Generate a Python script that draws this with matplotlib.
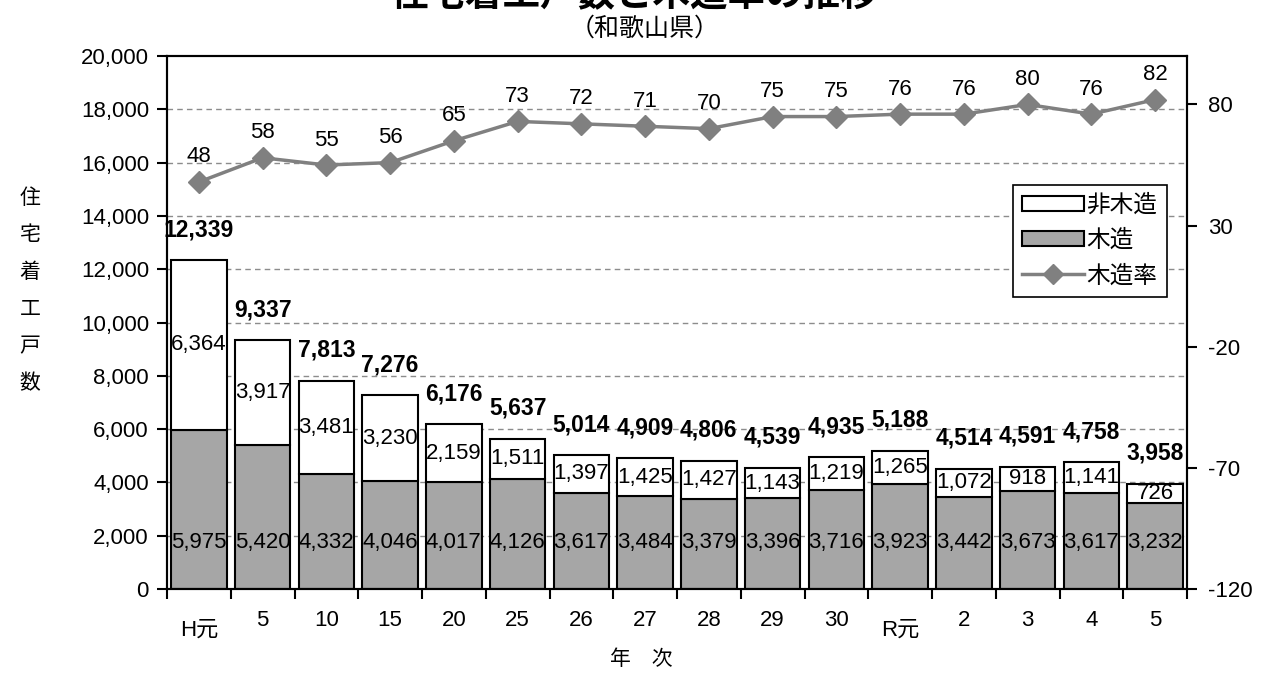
import numpy as np
import matplotlib
matplotlib.use("Agg")
import matplotlib.pyplot as plt
from matplotlib.patches import Patch
from matplotlib.lines import Line2D
from matplotlib.ticker import FuncFormatter

# data
years = ["H元", "5", "10", "15", "20", "25", "26", "27", "28", "29", "30", "R元", "2", "3", "4", "5"]
wooden = [5975, 5420, 4332, 4046, 4017, 4126, 3617, 3484, 3379, 3396, 3716, 3923, 3442, 3673, 3617, 3232]
non_wooden = [6364, 3917, 3481, 3230, 2159, 1511, 1397, 1425, 1427, 1143, 1219, 1265, 1072, 918, 1141, 726]
totals = [12339, 9337, 7813, 7276, 6176, 5637, 5014, 4909, 4806, 4539, 4935, 5188, 4514, 4591, 4758, 3958]
wood_rate = [48, 58, 55, 56, 65, 73, 72, 71, 70, 75, 75, 76, 76, 80, 76, 82]

FONTS = ['Liberation Sans', 'Noto Sans CJK JP', 'DejaVu Sans']
plt.rcParams['font.family'] = FONTS
plt.rcParams['axes.unicode_minus'] = False

W, H = 1268, 673
fig = plt.figure(figsize=(W / 100, H / 100), dpi=100)
ax = fig.add_axes([167 / W, 1 - 589 / H, 1020 / W, 533 / H])

x = np.arange(len(years))
gray = '#a6a6a6'
ax.bar(x, wooden, width=0.87, color=gray, edgecolor='black', linewidth=1.5, zorder=2)
ax.bar(x, non_wooden, bottom=wooden, width=0.87, color='white', edgecolor='black', linewidth=1.5, zorder=2)

ax.set_xlim(-0.5, len(years) - 0.5)
ax.set_ylim(0, 20000)
ax.set_yticks(range(0, 20001, 2000))
ax.yaxis.set_major_formatter(FuncFormatter(lambda v, p: f"{int(v):,}"))
for g in range(2000, 20000, 2000):
    ax.axhline(g, color='#8c8c8c', linestyle=(0, (4, 3)), linewidth=1, zorder=1)

ax.set_xticks(x)
ax.set_xticklabels(years)
ax.set_xticks(np.arange(-0.5, len(years), 1), minor=True)
ax.tick_params(axis='x', which='major', length=0, pad=15, labelsize=16)
ax.tick_params(axis='x', which='minor', length=7, width=1.5, direction='out')
ax.tick_params(axis='y', length=7, width=1.5, direction='out', labelsize=16, pad=6)
for i, lab in enumerate(years):
    if '元' in lab:
        ax.xaxis.get_major_ticks()[i].set_pad(22)

for s in ax.spines.values():
    s.set_linewidth(1.5)

# value labels
for xi, w, n, t in zip(x, wooden, non_wooden, totals):
    ax.text(xi, 1750, f"{w:,}", ha='center', va='center', fontsize=16, zorder=3)
    ax.text(xi, w + n / 2, f"{n:,}", ha='center', va='center', fontsize=16, zorder=3)
    ax.annotate(f"{t:,}", (xi, t), xytext=(0, 22), textcoords='offset points',
                ha='center', va='center', fontsize=16.5, fontweight='bold', zorder=3)

# wood rate line
ax2 = ax.twinx()
ax2.plot(x, wood_rate, color='#808080', linewidth=2.5, marker='D', markersize=11, zorder=4)
ax2.set_ylim(-120, 100)
ax2.set_yticks([-120, -70, -20, 30, 80])
ax2.tick_params(axis='y', length=7, width=1.5, direction='out', labelsize=16, pad=8)
for s in ax2.spines.values():
    s.set_linewidth(1.5)
for xi, r in zip(x, wood_rate):
    ax2.annotate(str(r), (xi, r), xytext=(0, 18), textcoords='offset points',
                 ha='center', va='center', fontsize=16)

handles = [Patch(facecolor='white', edgecolor='black', linewidth=1.5),
           Patch(facecolor=gray, edgecolor='black', linewidth=1.5),
           Line2D([], [], color='#808080', linewidth=2.5, marker='D', markersize=10)]
leg = ax2.legend(handles, ["非木造", "木造", "木造率"], loc='upper left',
                 bbox_to_anchor=(1013 / W, 1 - 185 / H), bbox_transform=fig.transFigure,
                 fancybox=False, framealpha=1, edgecolor='black', fontsize=17,
                 handlelength=2.6, handleheight=0.6, handletextpad=0.1, labelspacing=0.55,
                 borderpad=0.4, borderaxespad=0)
leg.get_frame().set_linewidth(1.2)

# titles and axis labels
fig.text(0.5, 1 - 14 / H, "住宅着工戸数と木造率の推移", ha='center', va='bottom',
         fontsize=27, fontweight='bold', family=FONTS[1:])
fig.text(645 / W, 1 - 29 / H, "（和歌山県）", ha='center', va='center', fontsize=18,
         family=FONTS[1:])
for k, ch in enumerate("住宅着工戸数"):
    fig.text(30 / W, 1 - (198 + 37 * k) / H, ch, ha='center', va='center', fontsize=15,
             family=FONTS[1:])
fig.text(641 / W, 1 - 659 / H, "年　次", ha='center', va='center', fontsize=15,
         family=FONTS[1:])

fig.savefig("out.png", dpi=100)
